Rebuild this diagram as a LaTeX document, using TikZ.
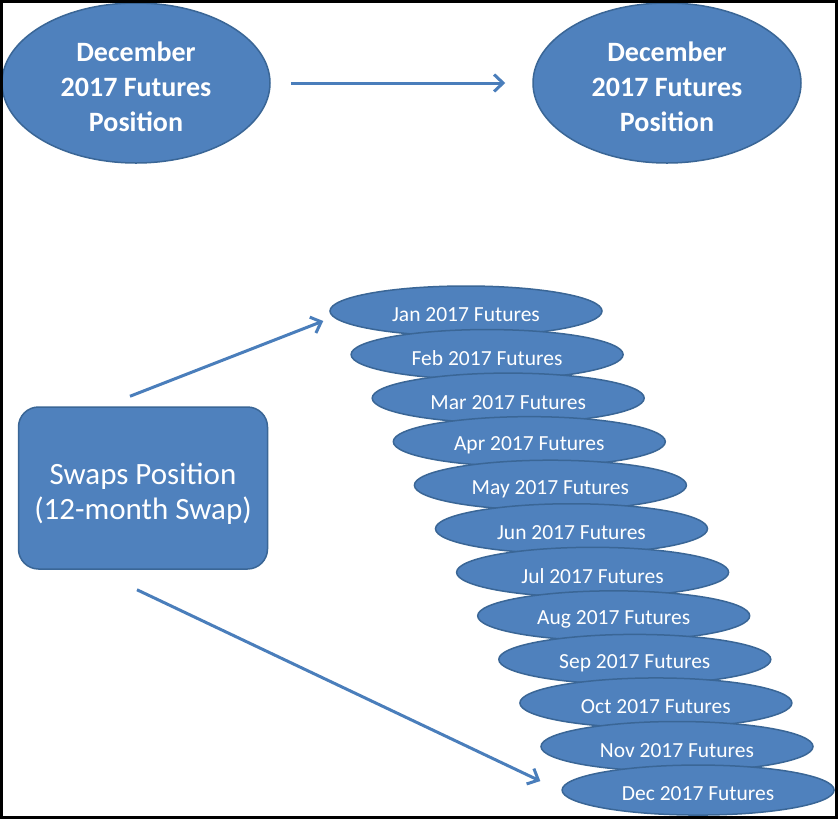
\documentclass[tikz,border=0pt]{standalone}
\usepackage{fontspec}
\setmainfont{Carlito}
\usetikzlibrary{shapes.geometric,arrows.meta}
\definecolor{fillblue}{HTML}{4F81BD}
\definecolor{edgeblue}{HTML}{3A6696}
\definecolor{arrowblue}{HTML}{4A7EBB}
\newcommand{\lowered}[2]{\raisebox{-#1}[\height][\depth]{\begin{tabular}{@{}c@{}}#2\end{tabular}}}
\tikzset{
  bigell/.style={ellipse, draw=edgeblue, line width=1.5pt, fill=fillblue, text=white,
    minimum width=268pt, minimum height=160pt, inner sep=0pt,
    font=\fontsize{28}{35}\selectfont\bfseries},
  monthell/.style={ellipse, draw=edgeblue, line width=1.5pt, fill=fillblue, text=white,
    minimum width=272pt, minimum height=50pt, inner sep=0pt,
    font=\fontsize{21.5}{24}\selectfont},
  swapbox/.style={rectangle, rounded corners=20pt, draw=edgeblue, line width=1.5pt,
    fill=fillblue, text=white, minimum width=249pt, minimum height=162pt,
    inner sep=0pt, font=\fontsize{31}{35}\selectfont},
  arr/.style={draw=arrowblue, line width=3pt,
    -{Straight Barb[length=9pt,width=17pt]}},
  framebox/.style={draw=black, line width=3pt}
}
\begin{document}
\begin{tikzpicture}[x=1pt,y=-1pt]
\useasboundingbox (0,0) rectangle (838,820);
\fill[white] (0,0) rectangle (838,820);
\node[bigell] (dl) at (136,83) {\lowered{6pt}{December\\2017 Futures\\Position}};
\node[bigell] (dr) at (667,83) {\lowered{6pt}{December\\2017 Futures\\Position}};
\draw[arr, shorten <=20pt, shorten >=27pt] (dl) -- (dr);
\node[swapbox] (sw) at (143,488) {\lowered{7pt}{Swaps Position\\(12-month Swap)}};
\foreach \m [count=\i from 0] in {Jan,Feb,Mar,Apr,May,Jun,Jul,Aug,Sep,Oct,Nov,Dec}{
  \node[monthell] (m\i) at ({466+21.1*\i},{311+43.55*\i}) {\raisebox{-4pt}[\height][\depth]{\m\ 2017 Futures}};
}
\draw[arr] ([xshift=-13pt,yshift=10pt]sw.north) -- ([xshift=-6pt,yshift=-10pt]m0.west);
\draw[arr] ([xshift=-6pt,yshift=-20pt]sw.south) -- ([xshift=-21pt,yshift=9pt]m11.west);
\draw[framebox] (1.5,1.5) rectangle (836.5,817.5);
\end{tikzpicture}
\end{document}
